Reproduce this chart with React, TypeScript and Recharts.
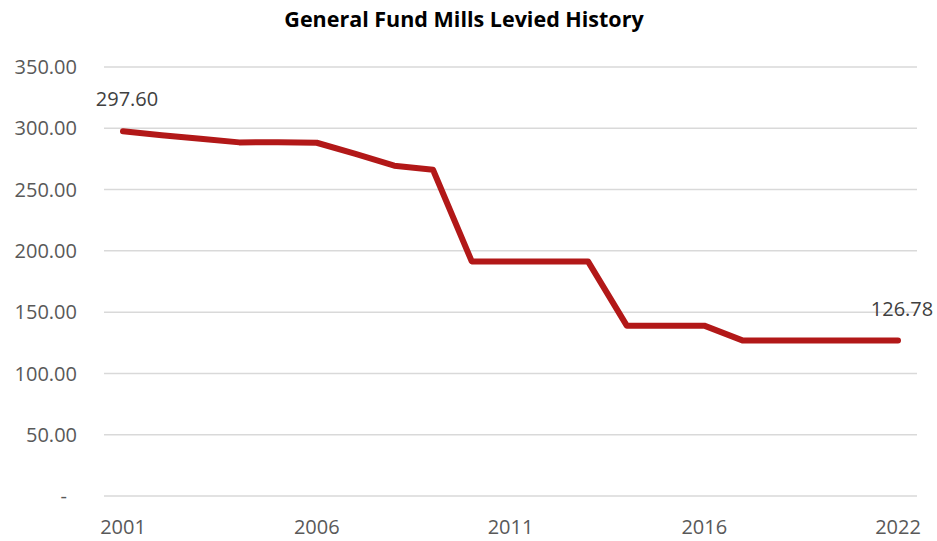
import React from "react";
import { LineChart, Line, XAxis, YAxis, CartesianGrid, LabelList } from "recharts";

const years = ["2001","2002","2003","2004","2005","2006","2007","2008","2009","2010","2011","2012","2013","2014","2015","2016","2017","2018","2019","2021","2022"];
const mills = [297.6, 294.4, 291.5, 288.5, 288.7, 288.2, 279.1, 269.5, 266.2, 191.4, 191.4, 191.4, 191.4, 139.0, 139.0, 139.0, 126.78, 126.78, 126.78, 126.78, 126.78];
const yTicks = [0, 50, 100, 150, 200, 250, 300, 350];
const title = "General Fund Mills Levied History";

const data = years.map((y, i) => ({ year: y, value: mills[i] }));

const FONT = "'Open Sans', sans-serif";

const YTick = (props: any) => {
  const { x, y, payload } = props;
  const v = payload.value;
  const label = v === 0 ? "-" : v.toFixed(2);
  return (
    <text x={v === 0 ? x - 10 : x} y={y} dy="0.36em" textAnchor="end" fill="#595959" fontSize={20} fontFamily={FONT}>
      {label}
    </text>
  );
};

const EndLabel = (props: any) => {
  const { x, y, index, value } = props;
  if (index !== 0 && index !== mills.length - 1) return null;
  return (
    <text x={x + 4} y={y - 32} dy="0.36em" textAnchor="middle" fill="#404040" fontSize={20} fontFamily={FONT}>
      {Number(value).toFixed(2)}
    </text>
  );
};

export default function App() {
  return (
    <div style={{ position: "absolute", left: 0, top: 0, width: 937, height: 541, background: "#fff" }}>
      <div
        style={{
          position: "absolute",
          top: 4,
          left: 0,
          width: 928,
          textAlign: "center",
          fontFamily: FONT,
          fontWeight: 700,
          fontSize: 21.5,
          color: "#000",
        }}
      >
        {title}
      </div>
      <LineChart width={937} height={541} data={data} margin={{ top: 67, right: 20, bottom: 0, left: 0 }}>
        <CartesianGrid vertical={false} stroke="#D9D9D9" strokeWidth={1.5} />
        <XAxis
          dataKey="year"
          interval={4}
          axisLine={false}
          tickLine={false}
          tickSize={0}
          tickMargin={24}
          height={45}
          padding={{ left: 19, right: 19 }}
          tick={{ fill: "#595959", fontSize: 20, fontFamily: FONT }}
        />
        <YAxis
          domain={[0, 350]}
          ticks={yTicks}
          axisLine={false}
          tickLine={false}
          tickSize={0}
          tickMargin={27}
          width={104}
          tick={<YTick />}
        />
        <Line
          type="linear"
          dataKey="value"
          stroke="#B21818"
          strokeWidth={6}
          dot={false}
          strokeLinecap="round"
          strokeLinejoin="round"
          isAnimationActive={false}
        >
          <LabelList dataKey="value" content={<EndLabel />} />
        </Line>
      </LineChart>
    </div>
  );
}
